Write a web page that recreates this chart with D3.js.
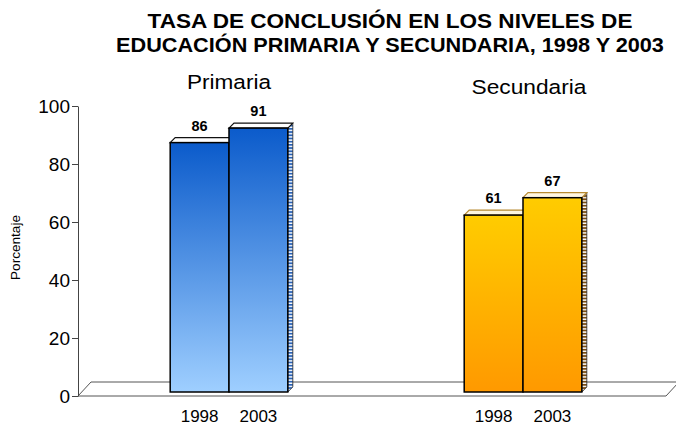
<!DOCTYPE html>
<html>
<head>
<meta charset="utf-8">
<script src="https://cdn.jsdelivr.net/npm/d3@7"></script>
<style>
  html, body { margin: 0; padding: 0; background: #fff; }
  svg { display: block; font-family: "Liberation Sans", Arial, sans-serif; }
</style>
</head>
<body>
<svg id="chart" width="676" height="425"></svg>
<script>
// ---- data ----
const titleLines = ["TASA DE CONCLUSIÓN EN LOS NIVELES DE", "EDUCACIÓN PRIMARIA Y SECUNDARIA, 1998 Y 2003"];
const categories = ["Primaria", "Secundaria"];
const years = ["1998", "2003"];
const primaria = [86, 91];
const secundaria = [61, 67];
const yTicks = [0, 20, 40, 60, 80, 100];
const yLabel = "Porcentaje";

const seriesByCat = { "Primaria": primaria, "Secundaria": secundaria };

const svg = d3.select("#chart");

const y = d3.scaleLinear().domain([0, 100]).range([396, 106]);
const x0 = d3.scaleBand().domain(categories).range([82, 670]).paddingInner(0.6).paddingOuter(0.3);
const x1 = d3.scaleBand().domain(years).range([0, x0.bandwidth()]);

const depth = 5;      // bar 3D depth
const lift = 4;       // bars sit slightly behind the axis zero line
const floorDx = 13, floorDy = 14;

// stretch a centred text horizontally to a target width
function fitText(sel, cx, cy, target, rotate) {
  sel.attr("x", 0).attr("y", 0).attr("text-anchor", "middle");
  const w = sel.node().getComputedTextLength();
  const k = target / w;
  sel.attr("transform", `translate(${cx},${cy})${rotate ? " rotate(" + rotate + ")" : ""} scale(${k},1)`);
}

// ---- defs ----
const defs = svg.append("defs");
const palettes = {
  "Primaria": { top: "#0b5bcb", bottom: "#9fcfff", stripe: "#2a63b8", cap: "#ffffff", capStroke: "#111" },
  "Secundaria": { top: "#ffcc00", bottom: "#ff9900", stripe: "#7a4c10", cap: "#fff6e0", capStroke: "#b88a30" }
};
categories.forEach((c, i) => {
  const p = palettes[c];
  const g = defs.append("linearGradient").attr("id", "grad" + i)
    .attr("x1", 0).attr("y1", 0).attr("x2", 0).attr("y2", 1);
  g.append("stop").attr("offset", "0%").attr("stop-color", p.top);
  g.append("stop").attr("offset", "100%").attr("stop-color", p.bottom);
  const pat = defs.append("pattern").attr("id", "side" + i)
    .attr("patternUnits", "userSpaceOnUse").attr("width", 8).attr("height", 3.2);
  pat.append("rect").attr("width", 8).attr("height", 3.2).attr("fill", "#fff");
  pat.append("rect").attr("width", 8).attr("height", 1.8).attr("fill", p.stripe);
});

// ---- title ----
const titleWidths = [485, 548];
titleLines.forEach((t, i) => {
  const tx = svg.append("text")
    .attr("font-weight", "bold").attr("font-size", 19.5)
    .attr("fill", "#000").text(t);
  fitText(tx, 390, 27.5 + i * 24.5, titleWidths[i]);
});

// ---- floor ----
const x0px = 78, xR = 666, y0px = y(0);
svg.append("path")
  .attr("d", `M${x0px},${y0px} L${xR},${y0px} L${xR + floorDx},${y0px - floorDy} L${x0px + floorDx},${y0px - floorDy} Z`)
  .attr("fill", "#fff").attr("stroke", "#555").attr("stroke-width", 1);

// ---- axis ----
const axis = d3.axisLeft(y).tickValues(yTicks).tickSize(6).tickSizeOuter(0).tickPadding(2);
const ag = svg.append("g").attr("transform", `translate(${x0px},0)`).call(axis);
ag.select(".domain").attr("stroke", "#444");
ag.selectAll(".tick line").attr("stroke", "#444");
ag.selectAll(".tick text").attr("font-size", 19).attr("font-family", "Liberation Sans, Arial, sans-serif").attr("fill", "#000");

const yl = svg.append("text").attr("font-size", 12).attr("fill", "#000").text(yLabel);
fitText(yl, 19.5, 247.5, 65, -90);

// ---- bars ----
const catWidths = [84, 115];
categories.forEach((c, ci) => {
  const p = palettes[c];
  const vals = seriesByCat[c];
  const g = svg.append("g");
  years.forEach((yr, yi) => {
    const v = vals[yi];
    const xl = x0(c) + x1(yr);
    const xr = xl + x1.bandwidth();
    const yb = y(0) - lift;
    const yt = y(v) - lift;
    // side face
    g.append("path")
      .attr("d", `M${xr},${yt} L${xr + depth},${yt - depth} L${xr + depth},${yb - depth} L${xr},${yb} Z`)
      .attr("fill", `url(#side${ci})`).attr("stroke", "#222").attr("stroke-width", 0.8);
    // top face
    g.append("path")
      .attr("d", `M${xl},${yt} L${xl + depth},${yt - depth} L${xr + depth},${yt - depth} L${xr},${yt} Z`)
      .attr("fill", p.cap).attr("stroke", p.capStroke).attr("stroke-width", 1.2);
    // front face
    g.append("rect")
      .attr("x", xl).attr("y", yt).attr("width", xr - xl).attr("height", yb - yt)
      .attr("fill", `url(#grad${ci})`).attr("stroke", "#000").attr("stroke-width", 1.5);
    // value label
    g.append("text")
      .attr("x", (xl + xr) / 2).attr("y", yt - 12)
      .attr("text-anchor", "middle").attr("font-weight", "bold").attr("font-size", 14.5)
      .text(v);
    // year label
    g.append("text")
      .attr("x", (xl + xr) / 2).attr("y", 422)
      .attr("text-anchor", "middle").attr("font-size", 17)
      .text(yr);
  });
  // category label
  const cl = svg.append("text").attr("font-size", 19.5).attr("fill", "#000").text(c);
  fitText(cl, x0(c) + x0.bandwidth() / 2 + (ci === 1 ? 6 : 0), ci === 0 ? 88.5 : 94, catWidths[ci]);
});
</script>
</body>
</html>
